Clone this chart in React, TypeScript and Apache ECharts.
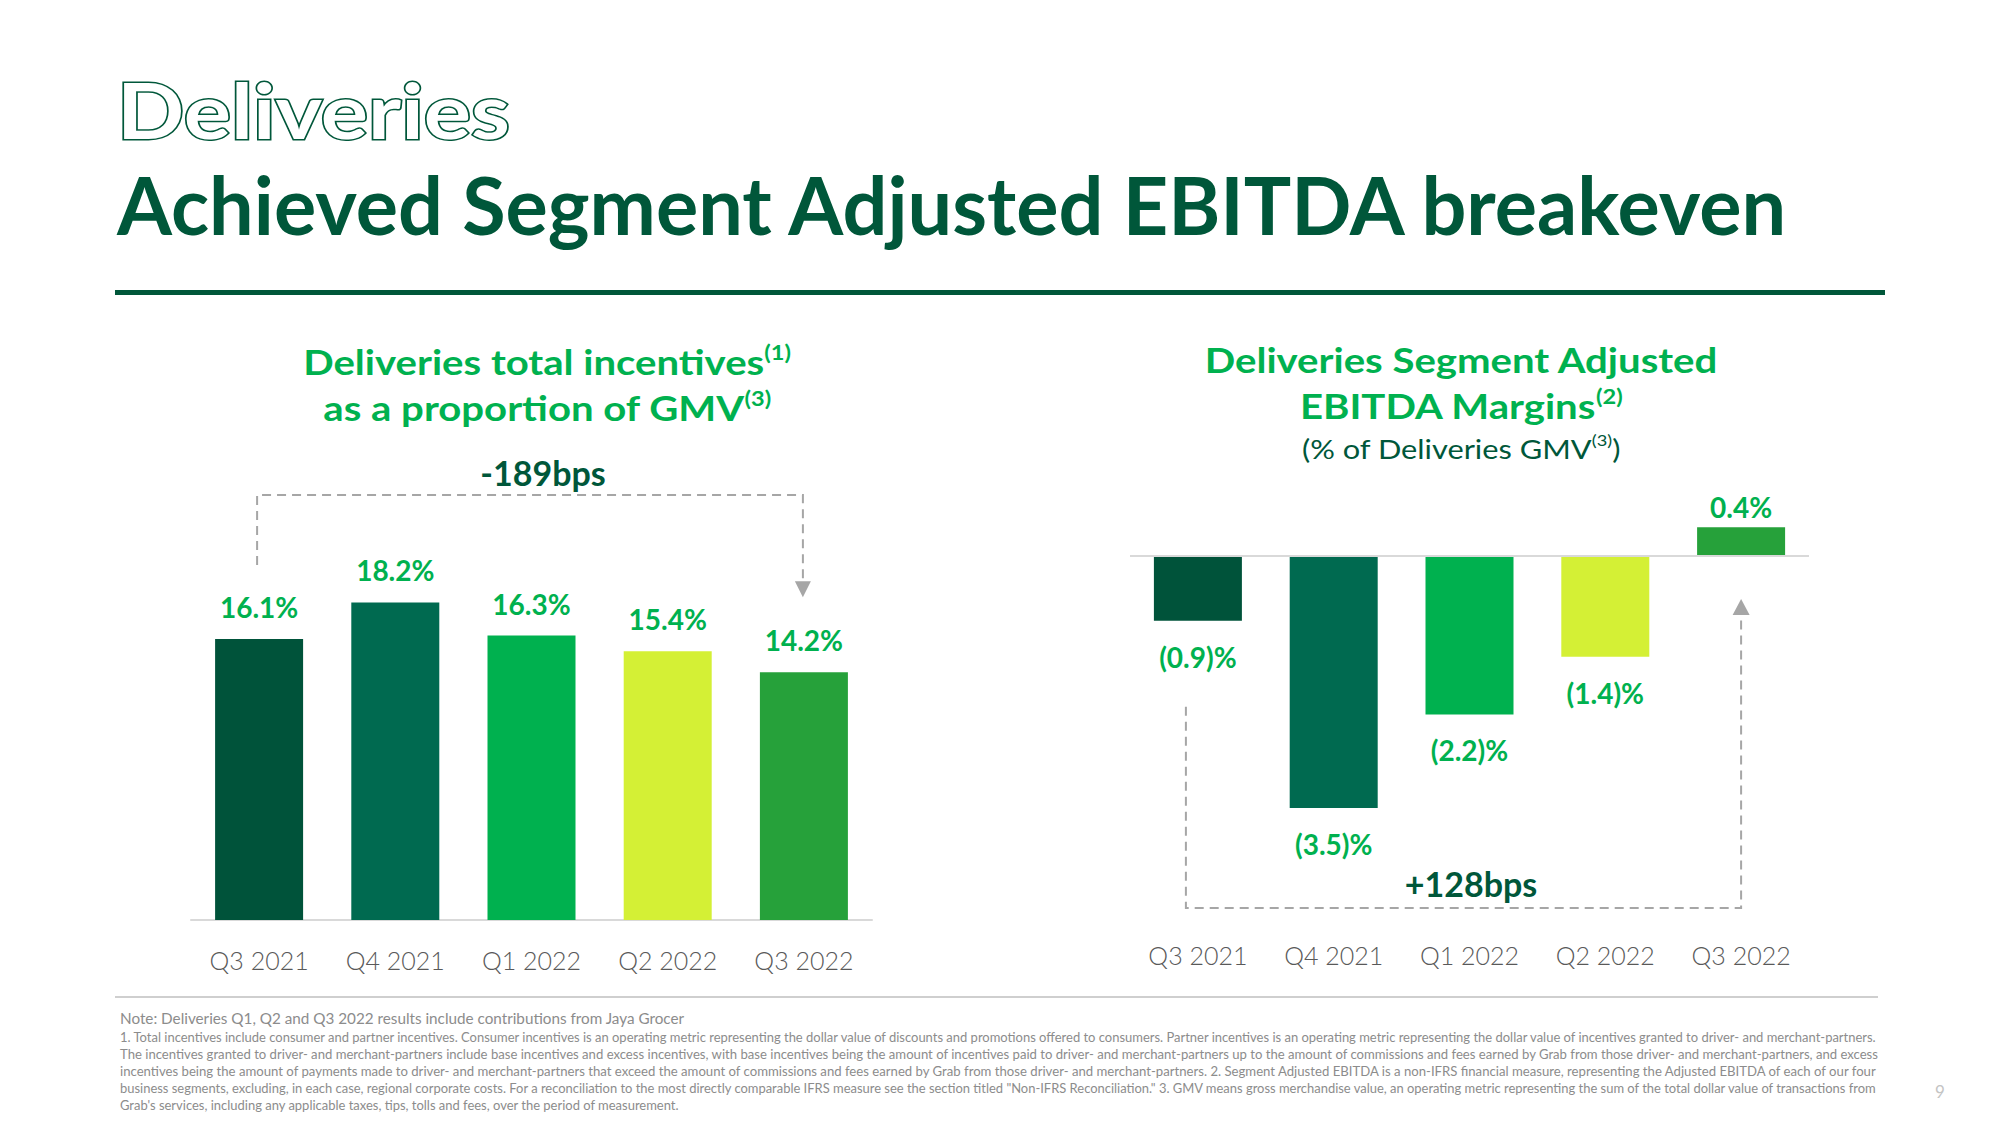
import React, { useEffect, useRef } from "react";
import * as echarts from "echarts";

const categories = ["Q3 2021", "Q4 2021", "Q1 2022", "Q2 2022", "Q3 2022"];
const incentiveShare = [16.1, 18.2, 16.3, 15.4, 14.2];
const ebitdaMargins = [-0.9, -3.5, -2.2, -1.4, 0.4];
const barColors = ["#00533a", "#006a50", "#00b14f", "#d4f035", "#26a13a"];
const leftChangeLabel = "-189bps";
const rightChangeLabel = "+128bps";

const footNote = "Note: Deliveries Q1, Q2 and Q3 2022 results include contributions from Jaya Grocer";
const footLines = [
  "1. Total incentives include consumer and partner incentives. Consumer incentives is an operating metric representing the dollar value of discounts and promotions offered to consumers. Partner incentives is an operating metric representing the dollar value of incentives granted to driver- and merchant-partners.",
  "The incentives granted to driver- and merchant-partners include base incentives and excess incentives, with base incentives being the amount of incentives paid to driver- and merchant-partners up to the amount of commissions and fees earned by Grab from those driver- and merchant-partners, and excess",
  "incentives being the amount of payments made to driver- and merchant-partners that exceed the amount of commissions and fees earned by Grab from those driver- and merchant-partners. 2. Segment Adjusted EBITDA is a non-IFRS financial measure, representing the Adjusted EBITDA of each of our four",
  "business segments, excluding, in each case, regional corporate costs. For a reconciliation to the most directly comparable IFRS measure see the section titled \"Non-IFRS Reconciliation.\" 3. GMV means gross merchandise value, an operating metric representing the sum of the total dollar value of transactions from",
  "Grab's services, including any applicable taxes, tips, tolls and fees, over the period of measurement.",
];

const DARK = "#00573a";
const GREEN = "#00b14f";
const GRAY_DASH = "#a6a6a6";
const HEAD_FONT = "Lato, 'Noto Sans', sans-serif";
const AXIS_FONT = "Lato, 'Open Sans', sans-serif";
const FOOT_FONT = "Lato, 'Liberation Sans', sans-serif";
const HEAD_SCALE = 1.18;

const fmtMargin = (v: number) => (v < 0 ? `(${Math.abs(v).toFixed(1)})%` : `${v.toFixed(1)}%`);

function measure(text: string, font: string): number {
  const c = document.createElement("canvas");
  const ctx = c.getContext("2d");
  if (!ctx) return 0;
  ctx.font = font;
  return ctx.measureText(text).width;
}

export default function App() {
  const ref = useRef<HTMLDivElement>(null);
  useEffect(() => {
    if (!ref.current) return;
    const chart = echarts.init(ref.current, null, { renderer: "svg" });

    const labelStyle = {
      show: true,
      color: GREEN,
      fontSize: 28,
      fontWeight: "bold" as const,
      fontFamily: HEAD_FONT,
    };

    const axisCommon = {
      type: "category" as const,
      data: categories,
      axisTick: { show: false },
      axisLabel: { color: "#595959", fontSize: 25, fontFamily: AXIS_FONT, fontWeight: 300 as any },
    };

    chart.setOption({
      animation: false,
      backgroundColor: "#ffffff",
      grid: [
        { left: 191, width: 681, top: 571, height: 349 },
        { left: 1130, width: 679, top: 484, height: 432 },
      ],
      xAxis: [
        {
          ...axisCommon,
          gridIndex: 0,
          axisLine: { show: true, lineStyle: { color: "#d9d9d9", width: 2 } },
          axisLabel: { ...axisCommon.axisLabel, margin: 27 },
        },
        {
          ...axisCommon,
          gridIndex: 1,
          position: "bottom",
          axisLine: { show: false, onZero: false },
          axisLabel: { ...axisCommon.axisLabel, margin: 26 },
        },
      ],
      yAxis: [
        { type: "value", gridIndex: 0, min: 0, max: 20, show: false },
        { type: "value", gridIndex: 1, min: -5, max: 1, show: false },
      ],
      series: [
        {
          type: "bar",
          xAxisIndex: 0,
          yAxisIndex: 0,
          barWidth: 88,
          data: incentiveShare.map((v, i) => ({ value: v, itemStyle: { color: barColors[i] } })),
          label: { ...labelStyle, position: "top", distance: 18, formatter: (p: any) => `${p.value.toFixed(1)}%` },
        },
        {
          type: "bar",
          xAxisIndex: 1,
          yAxisIndex: 1,
          barWidth: 88,
          data: ebitdaMargins.map((v, i) => ({
            value: v,
            itemStyle: { color: barColors[i] },
            label: { position: v < 0 ? "bottom" : "top", distance: v < 0 ? 22 : 6 },
          })),
          label: { ...labelStyle, formatter: (p: any) => fmtMargin(p.value) },
          markLine: {
            silent: true,
            symbol: "none",
            label: { show: false },
            lineStyle: { color: "#d9d9d9", width: 2, type: "solid" },
            data: [{ yAxis: 0 }],
          },
          z: 3,
        },
      ],
    });

    // pixel positions derived from the data through the axes
    const lp = (i: number) => chart.convertToPixel({ gridIndex: 0 }, [categories[i], incentiveShare[i]]) as number[];
    const rp = (i: number) => chart.convertToPixel({ gridIndex: 1 }, [categories[i], ebitdaMargins[i]]) as number[];
    const rZero = (chart.convertToPixel({ gridIndex: 1 }, [categories[0], 0]) as number[])[1];
    const last = categories.length - 1;

    const L0 = lp(0), L4 = lp(last);
    const R0 = rp(0), R4 = rp(last);
    const dash = { stroke: GRAY_DASH, lineWidth: 2, lineDash: [9, 6], fill: null };

    const leftBracketY = 495;
    const leftEnd0 = L0[1] - 74;
    const leftEnd4 = L4[1] - 75;
    const rightBaseY = 908;
    const rightStartY = R0[1] + 86;
    const rightArrowTip = rZero + 43;
    const rx0 = R0[0] - 12;

    const footSize = 12.6;
    const footFontCss = `${footSize}px ${FOOT_FONT}`;
    const justifyWidth = 1759;
    const baseScale = (() => {
      const w = measure(footLines[0], footFontCss);
      return w > 0 ? justifyWidth / w : 1;
    })();
    const noteSize = 14.5;
    const noteW = measure(footNote, `${noteSize}px ${FOOT_FONT}`);
    const noteScale = noteW > 0 ? 565 / noteW : 1;

    const supRich = (size: number, supSize: number, fill: string, bold: boolean) => ({
      a: { fontSize: size, fontWeight: bold ? "bold" : "normal", fontFamily: HEAD_FONT, fill, lineHeight: size + 6 },
      s: { fontSize: supSize, fontWeight: bold ? "bold" : "normal", fontFamily: HEAD_FONT, fill, verticalAlign: "top", lineHeight: supSize + 2 },
    });

    const graphic: any[] = [
      {
        type: "text",
        x: 117,
        y: 110,
        scaleX: 1.165,
        style: {
          text: "Deliveries",
          fontSize: 76,
          fontWeight: "bold",
          fontFamily: HEAD_FONT,
          fill: "#ffffff",
          stroke: DARK,
          lineWidth: 3,
          verticalAlign: "middle",
        },
      },
      {
        type: "text",
        x: 117,
        y: 204,
        scaleX: 0.99,
        style: {
          text: "Achieved Segment Adjusted EBITDA breakeven",
          fontSize: 80,
          fontWeight: "bold",
          fontFamily: HEAD_FONT,
          fill: DARK,
          verticalAlign: "middle",
        },
      },
      { type: "rect", shape: { x: 115, y: 290, width: 1770, height: 5 }, style: { fill: DARK } },
      // left subtitle
      {
        type: "text",
        x: 547,
        y: 362,
        scaleX: HEAD_SCALE,
        style: { text: "{a|Deliveries total incentives}{s|(1)}", align: "center", verticalAlign: "middle", rich: supRich(34, 20, GREEN, true) },
      },
      {
        type: "text",
        x: 547,
        y: 408,
        scaleX: HEAD_SCALE,
        style: { text: "{a|as a proportion of GMV}{s|(3)}", align: "center", verticalAlign: "middle", rich: supRich(34, 20, GREEN, true) },
      },
      {
        type: "text",
        x: 543,
        y: 472,
        style: { text: leftChangeLabel, align: "center", verticalAlign: "middle", fontSize: 34, fontWeight: "bold", fontFamily: HEAD_FONT, fill: DARK },
      },
      // right subtitle
      {
        type: "text",
        x: 1461,
        y: 360,
        scaleX: HEAD_SCALE,
        style: { text: "Deliveries Segment Adjusted", align: "center", verticalAlign: "middle", fontSize: 34, fontWeight: "bold", fontFamily: HEAD_FONT, fill: GREEN },
      },
      {
        type: "text",
        x: 1461,
        y: 406,
        scaleX: HEAD_SCALE,
        style: { text: "{a|EBITDA Margins}{s|(2)}", align: "center", verticalAlign: "middle", rich: supRich(34, 20, GREEN, true) },
      },
      {
        type: "text",
        x: 1461,
        y: 448,
        scaleX: 1.14,
        style: { text: "{a|(% of Deliveries GMV}{s|(3)}{a|)}", align: "center", verticalAlign: "middle", rich: supRich(27, 16, DARK, false) },
      },
      {
        type: "text",
        x: 1471,
        y: 883,
        style: { text: rightChangeLabel, align: "center", verticalAlign: "middle", fontSize: 34, fontWeight: "bold", fontFamily: HEAD_FONT, fill: DARK },
      },
      // left bracket
      {
        type: "polyline",
        shape: { points: [[L0[0] - 2, leftEnd0], [L0[0] - 2, leftBracketY], [L4[0] - 1, leftBracketY], [L4[0] - 1, leftEnd4 - 14]] },
        style: dash,
      },
      {
        type: "polygon",
        shape: { points: [[L4[0] - 9, leftEnd4 - 16], [L4[0] + 7, leftEnd4 - 16], [L4[0] - 1, leftEnd4]] },
        style: { fill: GRAY_DASH },
      },
      // right bracket
      {
        type: "polyline",
        shape: { points: [[rx0, rightStartY], [rx0, rightBaseY], [R4[0], rightBaseY], [R4[0], rightArrowTip + 16]] },
        style: dash,
      },
      {
        type: "polygon",
        shape: { points: [[R4[0] - 8.5, rightArrowTip + 16], [R4[0] + 8.5, rightArrowTip + 16], [R4[0], rightArrowTip]] },
        style: { fill: GRAY_DASH },
      },
      // footer
      { type: "line", shape: { x1: 115, y1: 997, x2: 1878, y2: 997 }, style: { stroke: "#bfbfbf", lineWidth: 1.5 } },
      {
        type: "text",
        x: 120,
        y: 1018,
        scaleX: noteScale,
        style: { text: footNote, fill: "#8c8c8c", fontSize: noteSize, fontFamily: FOOT_FONT, verticalAlign: "middle" },
      },
      ...footLines.map((t, i) => {
        const isLast = i === footLines.length - 1;
        const w = measure(t, footFontCss);
        const sx = isLast || w <= 0 ? baseScale : justifyWidth / w;
        return {
          type: "text",
          x: 120,
          y: 1037 + i * 17,
          scaleX: sx,
          style: { text: t, fill: "#8c8c8c", fontSize: footSize, fontFamily: FOOT_FONT, verticalAlign: "middle" },
        };
      }),
      {
        type: "text",
        x: 1940,
        y: 1091,
        style: { text: "9", fill: "#c4c4c4", fontSize: 17, fontFamily: "Lato, sans-serif", align: "center", verticalAlign: "middle" },
      },
    ];

    chart.setOption({ graphic });

    return () => chart.dispose();
  }, []);

  return (
    <div
      ref={ref}
      style={{ position: "fixed", left: 0, top: 0, width: 2000, height: 1125, background: "#ffffff" }}
    />
  );
}
